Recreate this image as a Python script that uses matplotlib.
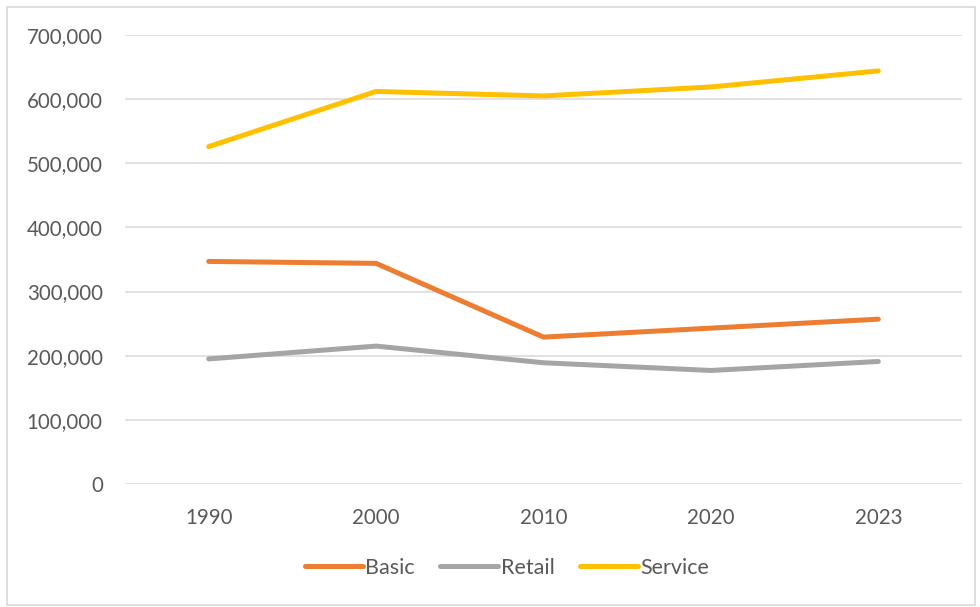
import matplotlib
matplotlib.use("Agg")
import matplotlib.pyplot as plt
from matplotlib.patches import Rectangle
from matplotlib.ticker import FuncFormatter

years = ["1990", "2000", "2010", "2020", "2023"]
basic = [347000, 344000, 229000, 243000, 257000]
retail = [195000, 215000, 189000, 177000, 191000]
service = [526000, 612000, 605000, 619000, 644000]

series = [("Basic", basic, "#ED7D31"),
          ("Retail", retail, "#A5A5A5"),
          ("Service", service, "#FFC000")]

plt.rcParams["font.family"] = ["Lato", "DejaVu Sans"]
TXT = "#595959"

fig = plt.figure(figsize=(9.8, 6.07), dpi=100)
ax = fig.add_axes([125 / 980, 1 - 484 / 607, (962 - 125) / 980, (484 - 35) / 607])

x = range(len(years))
for name, vals, col in series:
    ax.plot(x, vals, color=col, lw=3.6, solid_capstyle="round",
            solid_joinstyle="round", label=name, zorder=3)

ax.set_xlim(-0.5, len(years) - 0.5)
ax.set_ylim(0, 700000)
ax.set_yticks(range(0, 700001, 100000))
ax.yaxis.set_major_formatter(FuncFormatter(lambda v, _: f"{int(v):,}"))
ax.set_xticks(list(x))
ax.set_xticklabels(years)
ax.grid(axis="y", color="#D9D9D9", lw=1.1, zorder=0)
for s in ax.spines.values():
    s.set_visible(False)
ax.tick_params(axis="both", length=0, colors=TXT, labelsize=14.8)
ax.tick_params(axis="y", pad=16)
ax.tick_params(axis="x", pad=17)

leg = fig.legend(loc="center", bbox_to_anchor=(507 / 980, 1 - 568 / 607), ncol=3,
                 frameon=False, fontsize=15.5, handlelength=2.7, handletextpad=0.1,
                 columnspacing=1.2)
for t in leg.get_texts():
    t.set_color(TXT)

fig.patches.append(Rectangle((7 / 980, 2 / 607), 968 / 980, 598 / 607,
                             transform=fig.transFigure, fill=False,
                             edgecolor="#D9D9D9", lw=1.2))

fig.savefig("out.png", dpi=100)
